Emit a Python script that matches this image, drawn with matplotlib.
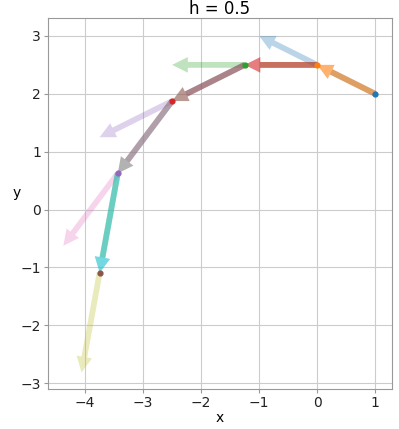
import matplotlib.pyplot as plt
import numpy as np

h = 0.5
# euler points
xs = [1.0, 0.0, -1.25, -2.5, -3.4375, -3.75]
ys = [2.0, 2.5, 2.5, 1.875, 0.625, -1.09375]
# previous step repeated from the new point (light arrows)
ghost_dx = [-1.0, -1.25, -1.25, -0.9375, -0.3125]
ghost_dy = [0.5, 0.0, -0.625, -1.25, -1.71875]

point_colors = ["C0", "C1", "C2", "C3", "C4", "C5"]
step_colors = ["C1", "C3", "C5", "C7", "C9"]
ghost_colors = ["C0", "C2", "C4", "C6", "C8"]

hl = 0.27
plt.rcParams['font.size'] = 10
fig = plt.figure(figsize=(3.99, 4.29), dpi=100)
ax = fig.add_axes([48 / 399, 40 / 429, 344 / 399, 371 / 429])

for i in range(len(xs) - 1):
    dx = xs[i + 1] - xs[i]
    dy = ys[i + 1] - ys[i]
    L = np.hypot(dx, dy)
    # light copy under the step shaft
    ax.arrow(xs[i], ys[i], dx * (L - hl) / L, dy * (L - hl) / L, width=0.1, head_width=0.1,
             head_length=0, length_includes_head=True, color=ghost_colors[i], alpha=0.35, lw=0)
    ax.arrow(xs[i + 1], ys[i + 1], ghost_dx[i], ghost_dy[i], width=0.1, head_width=0.27,
             head_length=hl, length_includes_head=True, color=ghost_colors[i], alpha=0.3, lw=0)
    ax.arrow(xs[i], ys[i], dx, dy, width=0.1, head_width=0.27,
             head_length=hl, length_includes_head=True, color=step_colors[i], alpha=0.6, lw=0)

for i in range(len(xs)):
    ax.scatter(xs[i], ys[i], s=12, color=point_colors[i], zorder=5)

ax.set_xlim(-4.64, 1.29)
ax.set_ylim(-3.10, 3.31)
ax.grid(True, color="#cccccc", lw=0.8)
ax.set_axisbelow(True)
for s in ax.spines.values():
    s.set_color("#999999")
ax.tick_params(colors="#999999", labelcolor="#222222", length=3, pad=2)
ax.set_xlabel("x", labelpad=1)
ax.set_ylabel("y", rotation=0)
ax.yaxis.set_label_coords(-0.09, 0.51)
ax.set_title("h = {}".format(h), pad=3)
fig.savefig("out.png")
